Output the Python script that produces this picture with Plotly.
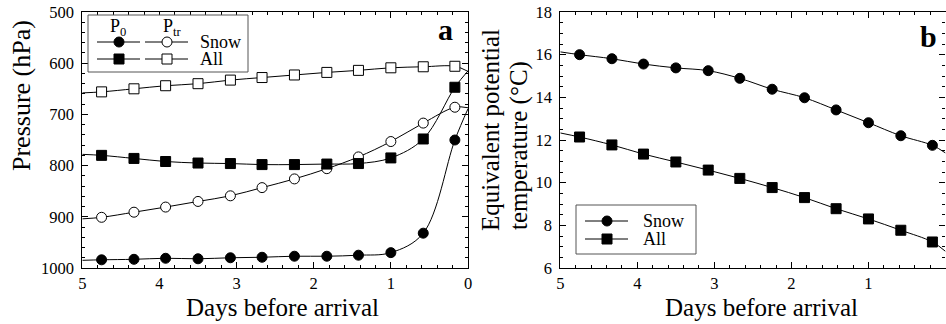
import plotly.graph_objects as go

# ---------------- data ----------------
days = [4.75, 4.33, 3.92, 3.5, 3.08, 2.67, 2.25, 1.83, 1.42, 1.0, 0.58, 0.17]
edge_days = [5.0, 0.0]

# panel a: pressure (hPa)
p0_snow = [984, 983, 981, 982, 980, 979, 977, 977, 975, 970, 932, 750]
p0_snow_edges = [985, 689]
ptr_snow = [901, 891, 881, 870, 859, 843, 826, 806, 783, 753, 717, 686]
ptr_snow_edges = [904, 687]
p0_all = [780, 786, 792, 795, 796, 798, 798, 797, 796, 785, 748, 647]
p0_all_edges = [778, 615]
ptr_all = [656, 650, 644, 640, 633, 628, 623, 618, 614, 609, 607, 606]
ptr_all_edges = [658, 616]

# panel b: equivalent potential temperature (degC)
theta_snow = [16.0, 15.81, 15.56, 15.38, 15.25, 14.89, 14.38, 13.98, 13.41, 12.81, 12.20, 11.75]
theta_snow_edges = [16.13, 11.39]
theta_all = [12.14, 11.77, 11.34, 10.97, 10.59, 10.20, 9.77, 9.30, 8.78, 8.30, 7.77, 7.22]
theta_all_edges = [12.33, 6.78]

x_ticks = [0, 1, 2, 3, 4, 5]
p_ticks = [500, 600, 700, 800, 900, 1000]
t_ticks = [6, 8, 10, 12, 14, 16, 18]

# ---------------- figure ----------------
W, H = 946, 324
FONT = "Liberation Serif, Times New Roman, serif"


def px(x):
    return x / W


def py(y):
    return 1 - y / H


fig = go.Figure()


def add_series(vals, edges, symbol, fill, xa, ya):
    fig.add_trace(go.Scatter(
        x=[edge_days[0]] + days + [edge_days[1]],
        y=[edges[0]] + vals + [edges[1]],
        mode="lines", line=dict(color="black", width=1, shape="spline", smoothing=1),
        xaxis=xa, yaxis=ya, showlegend=False, hoverinfo="skip"))
    fig.add_trace(go.Scatter(
        x=days, y=vals, mode="markers",
        marker=dict(symbol=symbol, size=10, color=fill, line=dict(color="black", width=1)),
        xaxis=xa, yaxis=ya, showlegend=False))


add_series(ptr_all, ptr_all_edges, "square", "white", "x", "y")
add_series(ptr_snow, ptr_snow_edges, "circle", "white", "x", "y")
add_series(p0_all, p0_all_edges, "square", "black", "x", "y")
add_series(p0_snow, p0_snow_edges, "circle", "black", "x", "y")
add_series(theta_snow, theta_snow_edges, "circle", "black", "x2", "y2")
add_series(theta_all, theta_all_edges, "square", "black", "x2", "y2")

common = dict(
    showline=True, linecolor="black", linewidth=1.2, mirror="allticks",
    ticks="inside", ticklen=6, tickwidth=1.2, tickcolor="black",
    showgrid=False, zeroline=False, automargin=False,
    tickfont=dict(family=FONT, size=16.5, color="black"),
)

fig.update_layout(
    width=W, height=H, margin=dict(l=0, r=0, t=0, b=0),
    font=dict(family=FONT, color="black"),
    paper_bgcolor="white", plot_bgcolor="white", showlegend=False,
    xaxis=dict(domain=[px(82.3), px(468)], range=[5, 0], tickvals=x_ticks, anchor="y",
               minor=dict(ticks="inside", ticklen=3, tickwidth=1, tickcolor="black", dtick=0.2, tick0=0),
               **common),
    yaxis=dict(domain=[py(268), py(12)], range=[1000, 500], tickvals=p_ticks, anchor="x",
               minor=dict(ticks="inside", ticklen=3, tickwidth=1, tickcolor="black", dtick=20, tick0=500),
               ticklabelstandoff=4, **common),
    xaxis2=dict(domain=[px(560.3), px(945.5)], range=[5, 0], tickvals=x_ticks, anchor="y2",
                minor=dict(ticks="inside", ticklen=3, tickwidth=1, tickcolor="black", dtick=0.2, tick0=0),
                **common),
    yaxis2=dict(domain=[py(268), py(12)], range=[6, 18], tickvals=t_ticks, anchor="x2",
                minor=dict(ticks="inside", ticklen=3, tickwidth=1, tickcolor="black", dtick=0.5, tick0=6),
                ticklabelstandoff=4, **common),
)

ann = []


def text(x, y, s, size, angle=0, bold=False, xanchor="center"):
    ann.append(dict(x=px(x), y=py(y), xref="paper", yref="paper", text=("<b>%s</b>" % s) if bold else s,
                    showarrow=False, textangle=angle, xanchor=xanchor, yanchor="middle",
                    font=dict(family=FONT, size=size, color="black")))


text(21, 96, "Pressure (hPa)", 26, angle=-90)
text(282, 307, "Days before arrival", 25)
text(761, 307, "Days before arrival", 25)
text(490, 130, "Equivalent potential", 25, angle=-90)
text(519, 146, "temperature (°C)", 25, angle=-90)
text(445, 30, "a", 30, bold=True)
text(928, 36, "b", 30, bold=True)

shapes = []


def rect_box(x0, y0, x1, y1):
    shapes.append(dict(type="rect", xref="paper", yref="paper", x0=px(x0), x1=px(x1), y0=py(y1), y1=py(y0),
                       line=dict(color="#555555", width=1), fillcolor="white", layer="above"))


def key(x0, x1, xm, y, symbol, fill):
    shapes.append(dict(type="line", xref="paper", yref="paper", x0=px(x0), x1=px(x1), y0=py(y), y1=py(y),
                       line=dict(color="black", width=1), layer="above"))
    shapes.append(dict(type="circle" if symbol == "circle" else "rect", xref="paper", yref="paper",
                       xsizemode="pixel", ysizemode="pixel", xanchor=px(xm), yanchor=py(y),
                       x0=-5, x1=5, y0=-5, y1=5, fillcolor=fill,
                       line=dict(color="black", width=1), layer="above"))


# legend a
rect_box(88, 15, 248, 72)
text(118, 28, "P<sub>0</sub>", 18)
text(172, 28, "P<sub>tr</sub>", 18)
key(97, 140, 119, 42, "circle", "black")
key(145, 188, 167, 42, "circle", "white")
key(97, 140, 119, 59, "square", "black")
key(145, 188, 167, 59, "square", "white")
text(198, 42, "Snow", 18, xanchor="left")
text(198, 59, "All", 18, xanchor="left")

# legend b
rect_box(576, 205, 696, 254)
key(585, 628, 607, 221, "circle", "black")
key(585, 628, 607, 239, "square", "black")
text(641, 221, "Snow", 18, xanchor="left")
text(641, 239, "All", 18, xanchor="left")

fig.update_layout(annotations=ann, shapes=shapes)
fig.write_html("out.html", config={"displayModeBar": False},
               post_script="document.body.style.margin='0';document.body.style.overflow='hidden';")
